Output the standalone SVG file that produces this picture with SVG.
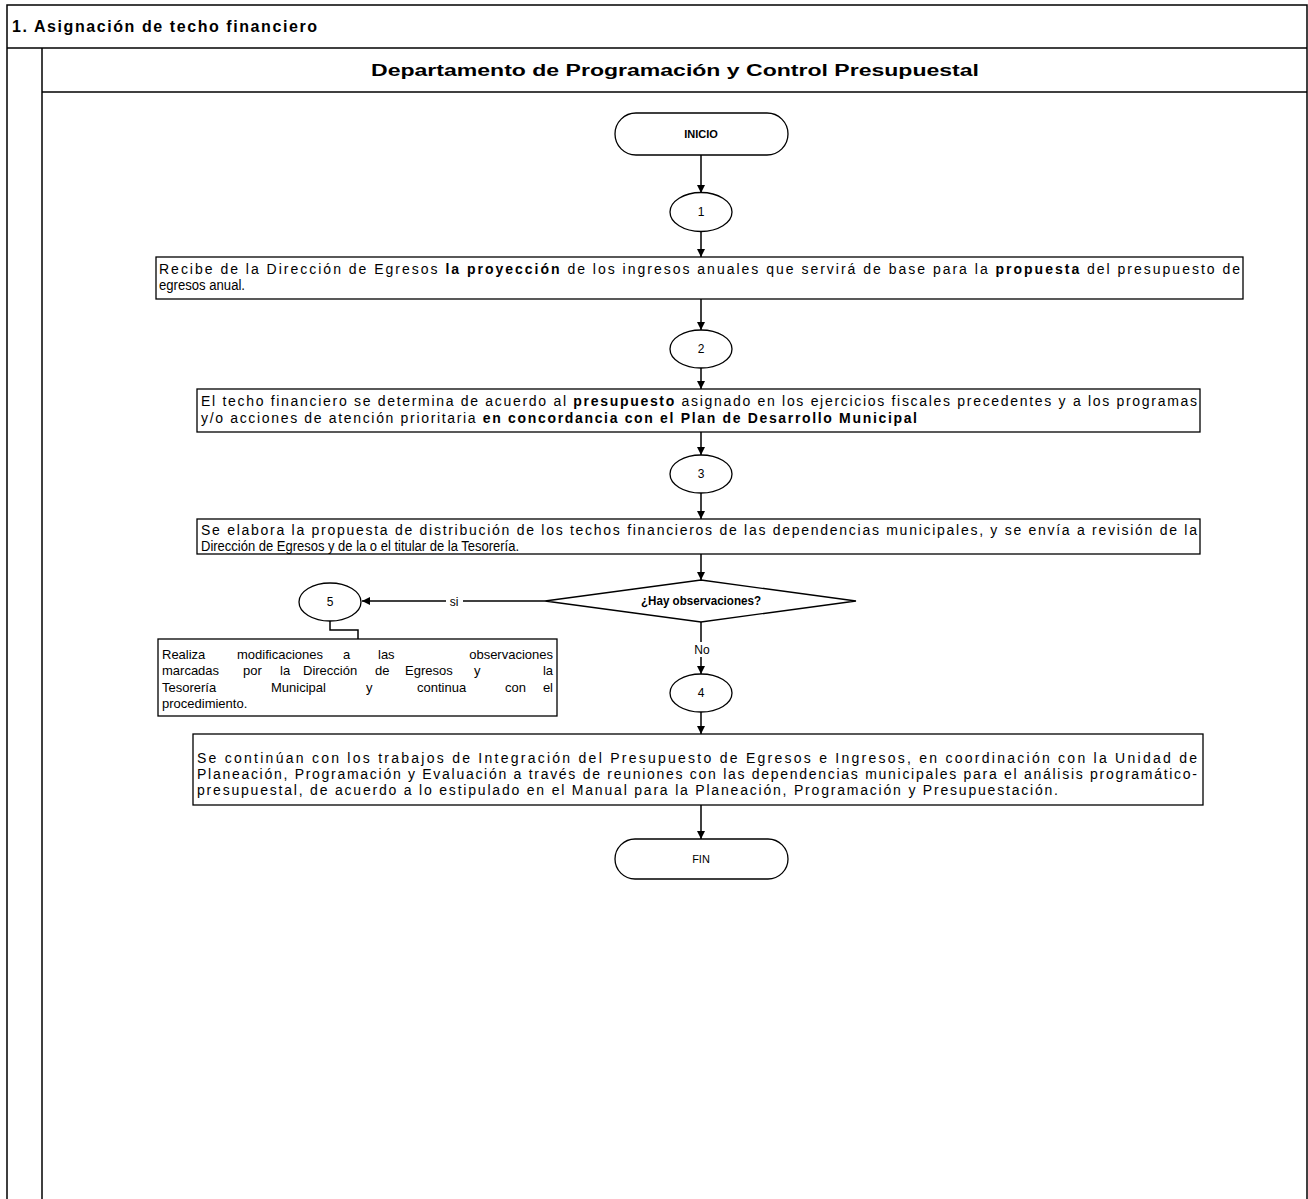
<svg xmlns="http://www.w3.org/2000/svg" width="1308" height="1199" viewBox="0 0 1308 1199">
<style>
.frame{fill:none;stroke:#000;stroke-width:1.5}
.shape{fill:#fff;stroke:#000;stroke-width:1.3}
.conn{fill:none;stroke:#000;stroke-width:1.5}
.t{font-family:"Liberation Sans",Arial,sans-serif;font-size:14px;fill:#000}
.s{font-size:12px}
.m{font-size:13px}
.b{font-weight:bold}
.c{text-anchor:middle}
.e{text-anchor:end}
</style>
<defs>
<marker id="ah" viewBox="0 0 10 10" refX="10" refY="5" markerWidth="8" markerHeight="8" markerUnits="userSpaceOnUse" orient="auto">
<path d="M0,0 L10,5 L0,10 z" fill="#000"/>
</marker>
</defs>
<rect x="0" y="0" width="1308" height="1199" fill="#fff"/>
<g id="frame">
<rect class="frame" x="7" y="5" width="1300" height="1200"/>
<line class="frame" x1="7" y1="48" x2="1307" y2="48"/>
<line class="frame" x1="42" y1="48" x2="42" y2="1199"/>
<line class="frame" x1="42" y1="92" x2="1307" y2="92" stroke="#444"/>
<text class="t b" x="12" y="32" style="font-size:16px" textLength="305" lengthAdjust="spacing">1. Asignación de techo financiero</text>
<text class="t b c" x="675" y="76" style="font-size:16px" textLength="608" lengthAdjust="spacingAndGlyphs">Departamento de Programación y Control Presupuestal</text>
</g>
<g id="connectors">
<line class="conn" x1="701" y1="155" x2="701" y2="193" marker-end="url(#ah)"/>
<line class="conn" x1="701" y1="232" x2="701" y2="257" marker-end="url(#ah)"/>
<line class="conn" x1="701" y1="299" x2="701" y2="330" marker-end="url(#ah)"/>
<line class="conn" x1="701" y1="368" x2="701" y2="389" marker-end="url(#ah)"/>
<line class="conn" x1="701" y1="432" x2="701" y2="455" marker-end="url(#ah)"/>
<line class="conn" x1="701" y1="493" x2="701" y2="519" marker-end="url(#ah)"/>
<line class="conn" x1="701" y1="554" x2="701" y2="580" marker-end="url(#ah)"/>
<line class="conn" x1="545" y1="601" x2="362" y2="601" marker-end="url(#ah)"/>
<rect x="446" y="594" width="17" height="14" fill="#fff"/>
<text class="t s c" x="454" y="606">si</text>
<polyline class="conn" points="330,621 330,630 358,630 358,639"/>
<line class="conn" x1="701" y1="622" x2="701" y2="674" marker-end="url(#ah)"/>
<rect x="690" y="642" width="24" height="15" fill="#fff"/>
<text class="t s c" x="702" y="654">No</text>
<line class="conn" x1="701" y1="712" x2="701" y2="734" marker-end="url(#ah)"/>
<line class="conn" x1="701" y1="805" x2="701" y2="839" marker-end="url(#ah)"/>
</g>
<g id="inicio">
<rect class="shape" x="615" y="113" width="173" height="42" rx="21"/>
<text class="t b c" x="701" y="138" style="font-size:11px">INICIO</text>
</g>
<g id="c1">
<ellipse class="shape" cx="701" cy="212" rx="31" ry="19.5"/>
<text class="t s c" x="701" y="216">1</text>
</g>
<g id="box1">
<rect class="shape" x="156" y="257" width="1087" height="42"/>
<text class="t" x="159" y="274" textLength="1081" lengthAdjust="spacing">Recibe de la Dirección de Egresos <tspan class="b">la proyección</tspan> de los ingresos anuales que servirá de base para la <tspan class="b">propuesta</tspan> del presupuesto de</text>
<text class="t" x="159" y="290" textLength="86" lengthAdjust="spacingAndGlyphs">egresos anual.</text>
</g>
<g id="c2">
<ellipse class="shape" cx="701" cy="349" rx="31" ry="19"/>
<text class="t s c" x="701" y="353">2</text>
</g>
<g id="box2">
<rect class="shape" x="197" y="389" width="1003" height="43"/>
<text class="t" x="201" y="406" textLength="996" lengthAdjust="spacing">El techo financiero se determina de acuerdo al <tspan class="b">presupuesto</tspan> asignado en los ejercicios fiscales precedentes y a los programas</text>
<text class="t" x="201" y="423" textLength="716" lengthAdjust="spacing">y/o acciones de atención prioritaria <tspan class="b">en concordancia con el Plan de Desarrollo Municipal</tspan></text>
</g>
<g id="c3">
<ellipse class="shape" cx="701" cy="474" rx="31" ry="19"/>
<text class="t s c" x="701" y="478">3</text>
</g>
<g id="box3">
<rect class="shape" x="197" y="519" width="1003" height="35"/>
<text class="t" x="201" y="535" textLength="996" lengthAdjust="spacing">Se elabora la propuesta de distribución de los techos financieros de  las dependencias municipales,  y se envía a revisión de la</text>
<text class="t" x="201" y="551" textLength="318" lengthAdjust="spacingAndGlyphs">Dirección de Egresos y de la o el titular de la Tesorería.</text>
</g>
<g id="decision">
<polygon class="shape" points="701,580 856,601 701,622 545,601"/>
<text class="t s b c" x="701" y="605" textLength="120" lengthAdjust="spacingAndGlyphs">¿Hay observaciones?</text>
</g>
<g id="c5">
<ellipse class="shape" cx="330" cy="602" rx="31" ry="19"/>
<text class="t s c" x="330" y="606">5</text>
</g>
<g id="box4">
<rect class="shape" x="158" y="639" width="399" height="77"/>
<text class="t m" y="659"><tspan x="162">Realiza</tspan><tspan x="237">modificaciones</tspan><tspan x="343">a</tspan><tspan x="378">las</tspan></text>
<text class="t m e" x="553" y="659">observaciones</text>
<text class="t m" y="675"><tspan x="162">marcadas</tspan><tspan x="243">por</tspan><tspan x="280">la</tspan><tspan x="303">Dirección</tspan><tspan x="375">de</tspan><tspan x="405">Egresos</tspan><tspan x="474">y</tspan></text>
<text class="t m e" x="553" y="675">la</text>
<text class="t m" y="692"><tspan x="162">Tesorería</tspan><tspan x="271">Municipal</tspan><tspan x="366">y</tspan><tspan x="417">continua</tspan><tspan x="505">con</tspan></text>
<text class="t m e" x="553" y="692">el</text>
<text class="t m" x="162" y="708">procedimiento.</text>
</g>
<g id="c4">
<ellipse class="shape" cx="701" cy="693" rx="31" ry="19"/>
<text class="t s c" x="701" y="697">4</text>
</g>
<g id="box5">
<rect class="shape" x="193" y="734" width="1010" height="71"/>
<text class="t" x="197" y="763" textLength="1000" lengthAdjust="spacing">Se continúan con los trabajos de  Integración del Presupuesto de Egresos e Ingresos, en coordinación con la Unidad de</text>
<text class="t" x="197" y="779" textLength="1000" lengthAdjust="spacing">Planeación, Programación y Evaluación a través de reuniones con las dependencias municipales para el análisis programático-</text>
<text class="t" x="197" y="795" textLength="861" lengthAdjust="spacing">presupuestal,  de acuerdo a lo estipulado en el Manual para la Planeación, Programación y Presupuestación.</text>
</g>
<g id="fin">
<rect class="shape" x="615" y="839" width="173" height="40" rx="20"/>
<text class="t c" x="701" y="863" style="font-size:11px">FIN</text>
</g>
</svg>
